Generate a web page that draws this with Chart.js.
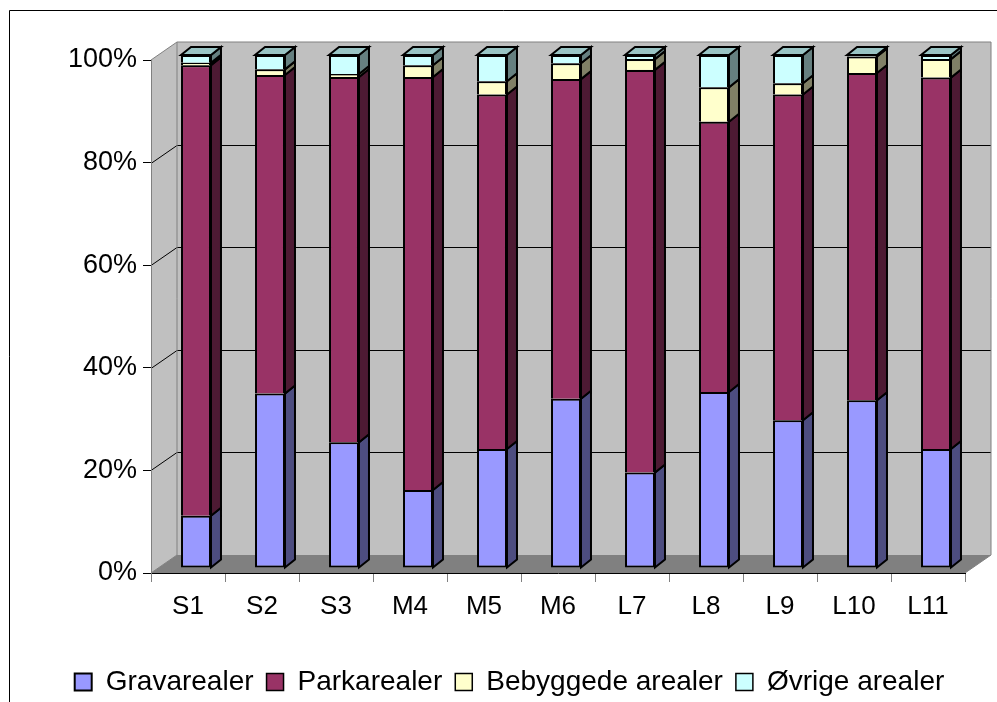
<!DOCTYPE html>
<html>
<head>
<meta charset="utf-8">
<script src="https://cdn.jsdelivr.net/npm/chart.js@4.4.1/dist/chart.umd.min.js"></script>
<style>
  html, body { margin: 0; padding: 0; background: #fff; }
  canvas { display: block; }
</style>
</head>
<body>
<canvas id="chart" width="997" height="702"></canvas>
<script>
// Values (share of each area, in %)
const categories = ["S1", "S2", "S3", "M4", "M5", "M6", "L7", "L8", "L9", "L10", "L11"];
const gravarealer = [10.2, 34.0, 24.5, 15.2, 23.2, 33.0, 18.6, 34.3, 28.8, 32.7, 23.2];
const parkarealer = [87.8, 62.1, 71.2, 80.5, 69.1, 62.3, 78.5, 52.7, 63.5, 63.8, 72.4];
const bebyggede = [0.5, 1.1, 0.6, 2.3, 2.6, 3.1, 2.1, 6.7, 2.2, 3.2, 3.6];
const ovrige = [1.5, 2.8, 3.7, 2.0, 5.1, 1.6, 0.8, 6.3, 5.5, 0.3, 0.8];
const yTicks = [0, 20, 40, 60, 80, 100];

const seriesNames = ["Gravarealer", "Parkarealer", "Bebyggede arealer", "Øvrige arealer"];
const frontColors = ["#9999ff", "#993366", "#ffffcc", "#ccffff"];
const sideColors = ["#4d4d80", "#4d1a33", "#808066", "#668080"];
const topColors = ["#7373bf", "#732650", "#bfbf99", "#99c4c4"];

// 3D look: depth of the walls and of the bars
const WALL_DX = 26, WALL_DY = 18;
const BAR_DX = 10, BAR_DY = 8;
const BAR_SHIFT_X = 8, BAR_SHIFT_Y = 5;

const FONT = "'Liberation Sans', Arial, sans-serif";

function poly(ctx, pts, fill, stroke) {
  ctx.beginPath();
  ctx.moveTo(pts[0][0], pts[0][1]);
  for (let i = 1; i < pts.length; i++) ctx.lineTo(pts[i][0], pts[i][1]);
  ctx.closePath();
  if (fill) {
    ctx.fillStyle = fill;
    ctx.fill();
  }
  if (stroke) {
    ctx.strokeStyle = stroke;
    ctx.stroke();
  }
}

// back wall, side wall, floor and the grid lines on them
const wallsPlugin = {
  id: "walls",
  beforeDraw(chart) {
    const { ctx, chartArea: a } = chart;
    const y = chart.scales.y;
    const top = y.getPixelForValue(100);
    const bottom = y.getPixelForValue(0);
    ctx.save();

    // outer frame
    ctx.lineWidth = 1;
    ctx.strokeStyle = "#000";
    ctx.beginPath();
    ctx.moveTo(9.5, 702);
    ctx.lineTo(9.5, 10.5);
    ctx.lineTo(997, 10.5);
    ctx.stroke();

    const bl = a.left + WALL_DX;
    const br = a.right + WALL_DX;
    poly(ctx, [[bl, top - WALL_DY], [br, top - WALL_DY], [br, bottom - WALL_DY], [bl, bottom - WALL_DY]], "#c0c0c0");
    poly(ctx, [[a.left, top], [bl, top - WALL_DY], [bl, bottom - WALL_DY], [a.left, bottom]], "#c0c0c0");
    poly(ctx, [[a.left, bottom], [bl, bottom - WALL_DY], [br, bottom - WALL_DY], [a.right, bottom]], "#808080");

    ctx.strokeStyle = "#000";
    yTicks.forEach((v) => {
      if (v === 0 || v === 100) return;
      const py = Math.round(y.getPixelForValue(v)) + 0.5;
      ctx.beginPath();
      ctx.moveTo(a.left, py);
      ctx.lineTo(bl, py - WALL_DY);
      ctx.lineTo(br, py - WALL_DY);
      ctx.stroke();
    });

    ctx.strokeStyle = "#808080";
    ctx.beginPath();
    ctx.moveTo(a.left, top);
    ctx.lineTo(bl, top - WALL_DY);
    ctx.lineTo(br, top - WALL_DY);
    ctx.lineTo(br, bottom - WALL_DY);
    ctx.lineTo(a.right, bottom);
    ctx.moveTo(bl, top - WALL_DY);
    ctx.lineTo(bl, bottom - WALL_DY);
    ctx.lineTo(a.left, bottom);
    ctx.stroke();
    ctx.restore();
  },
};

// bars sit half way into the depth; add their side and top faces
const bars3dPlugin = {
  id: "bars3d",
  beforeDatasetsDraw(chart) {
    chart.ctx.save();
    chart.ctx.translate(BAR_SHIFT_X, -BAR_SHIFT_Y);
  },
  afterDatasetsDraw(chart) {
    const ctx = chart.ctx;
    ctx.lineWidth = 2;
    ctx.lineJoin = "miter";
    const n = chart.data.datasets.length;
    categories.forEach((_, j) => {
      let last = null;
      for (let i = 0; i < n; i++) {
        const bar = chart.getDatasetMeta(i).data[j];
        const { x, y, base, width } = bar.getProps(["x", "y", "base", "width"], true);
        const left = x - width / 2;
        const right = x + width / 2;
        const top = Math.min(y, base);
        const bottom = Math.max(y, base);
        poly(ctx, [[right, top], [right + BAR_DX, top - BAR_DY], [right + BAR_DX, bottom - BAR_DY], [right, bottom]], sideColors[i], "#000");
        if (chart.data.datasets[i].data[j] > 0) last = { i, left, right, top };
      }
      if (last) {
        const { i, left, right, top } = last;
        poly(ctx, [[left, top], [left + BAR_DX, top - BAR_DY], [right + BAR_DX, top - BAR_DY], [right, top]], topColors[i], "#000");
      }
    });
    ctx.restore();
  },
  afterLayout(chart) {
    // legend is centred on the wider Excel chart box, a bit right of the page centre
    const lg = chart.legend;
    lg.left += 27;
    lg.right += 27;
    lg.top += 4;
    lg.bottom += 4;
  },
};

const seriesData = [gravarealer, parkarealer, bebyggede, ovrige];

const datasets = seriesData.map((values, i) => ({
  label: seriesNames[i],
  data: values,
  backgroundColor: frontColors[i],
  borderColor: "#000",
  borderWidth: { top: 2, left: 2, right: 2, bottom: i === 0 ? 2 : 0 },
  borderSkipped: false,
  barPercentage: 0.405,
  categoryPercentage: 1,
  clip: false,
}));

new Chart(document.getElementById("chart"), {
  type: "bar",
  data: { labels: categories, datasets },
  plugins: [wallsPlugin, bars3dPlugin],
  options: {
    responsive: false,
    animation: false,
    events: [],
    layout: { padding: { top: 60, right: 32, left: 0, bottom: 0 } },
    scales: {
      x: {
        stacked: true,
        grid: { drawOnChartArea: false, drawTicks: true, tickLength: 9, color: "#808080", offset: true },
        border: { display: true, color: "#000", width: 1 },
        ticks: { color: "#000", padding: 9, font: { family: FONT, size: 26 } },
        afterFit(scale) {
          scale.height = 78;
        },
      },
      y: {
        stacked: true,
        min: 0,
        max: 100,
        grid: { drawOnChartArea: false, drawTicks: true, tickLength: 8, color: "#000" },
        border: { display: true, color: "#808080", width: 1 },
        ticks: {
          stepSize: 20,
          color: "#000",
          padding: 6,
          font: { family: FONT, size: 27 },
          callback: (v) => v + "%",
        },
        afterFit(scale) {
          scale.width = 151;
        },
      },
    },
    plugins: {
      tooltip: { enabled: false },
      legend: {
        position: "bottom",
        labels: {
          color: "#000",
          boxWidth: 17,
          boxHeight: 17,
          padding: 13,
          font: { family: FONT, size: 28 },
        },
      },
    },
  },
});
</script>
</body>
</html>
